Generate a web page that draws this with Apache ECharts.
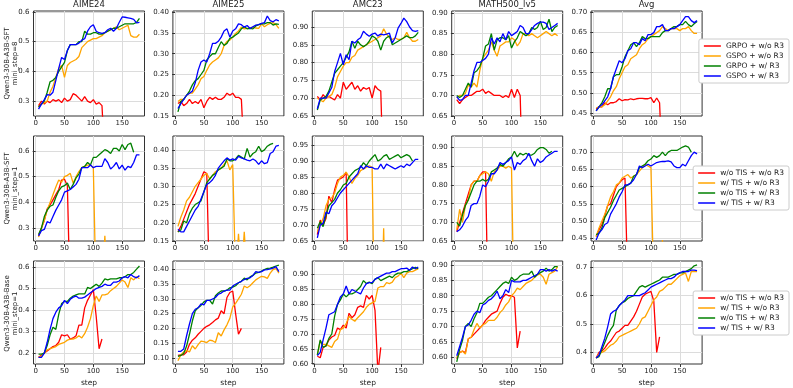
<!DOCTYPE html>
<html>
<head>
<meta charset="utf-8">
<script src="https://cdn.jsdelivr.net/npm/echarts@6.0.0/dist/echarts.min.js"></script>
<style>
  html, body { margin: 0; padding: 0; background: #fff; }
  #chart { width: 793px; height: 388px; }
</style>
</head>
<body>
<div id="chart"></div>
<script>
// x positions (training step) of every logged point
const steps = [5,10,15,20,25,30,35,40,45,50,55,60,65,70,75,80,85,90,95,100,
  105,110,115,120,125,130,135,140,145,150,155,160,165,170,175,180]

const benchmarks = ['AIME24', 'AIME25', 'AMC23', 'MATH500_lv5', 'Avg']
const rowLabels = ['Qwen3-30B-A3B-SFT\nmini_step=8', 'Qwen3-30B-A3B-SFT\nmini_step=1', 'Qwen3-30B-A3B-Base\nmini_step=1']
const legendRow1 = ['GRPO + w/o R3', 'GSPO + w/o R3', 'GRPO + w/ R3', 'GSPO + w/ R3']
const legendRow23 = ['w/o TIS + w/o R3', 'w/ TIS + w/o R3', 'w/o TIS + w/ R3', 'w/ TIS + w/ R3']
const xTicks = [0, 50, 100, 150]

// y tick labels and y limits, per row, per benchmark
const yTicks = [
  [['0.3','0.4','0.5','0.6'], ['0.15','0.20','0.25','0.30','0.35','0.40'], ['0.65','0.70','0.75','0.80','0.85','0.90'], ['0.65','0.70','0.75','0.80','0.85','0.90'], ['0.45','0.50','0.55','0.60','0.65','0.70']],
  [['0.3','0.4','0.5','0.6'], ['0.15','0.20','0.25','0.30','0.35','0.40'], ['0.65','0.70','0.75','0.80','0.85','0.90','0.95'], ['0.65','0.70','0.75','0.80','0.85','0.90'], ['0.45','0.50','0.55','0.60','0.65','0.70']],
  [['0.2','0.3','0.4','0.5','0.6'], ['0.10','0.15','0.20','0.25','0.30','0.35','0.40'], ['0.60','0.65','0.70','0.75','0.80','0.85','0.90'], ['0.60','0.65','0.70','0.75','0.80','0.85','0.90'], ['0.4','0.5','0.6','0.7']]
]
const yLimits = [
  [[0.25, 0.603], [0.15, 0.403], [0.65, 0.945], [0.65, 0.905], [0.442, 0.704]],
  [[0.25, 0.658], [0.15, 0.438], [0.65, 0.978], [0.65, 0.931], [0.442, 0.747]],
  [[0.149, 0.628], [0.079, 0.429], [0.599, 0.946], [0.578, 0.913], [0.359, 0.722]]
]

// row 1: Qwen3-30B-A3B-SFT, mini_step=8
const sft8Red = [
  [0.285,0.30,0.29,0.30,0.295,0.305,0.30,0.305,0.295,0.31,0.30,0.305,0.325,0.32,0.31,0.30,0.315,0.30,0.295,0.305,0.29,0.295,0.285,0.10],
  [0.18,0.185,0.175,0.18,0.19,0.18,0.185,0.18,0.19,0.17,0.185,0.195,0.19,0.195,0.19,0.19,0.195,0.205,0.20,0.205,0.195,0.195,0.19,0.05],
  [0.705,0.695,0.71,0.70,0.705,0.70,0.695,0.71,0.70,0.745,0.725,0.735,0.745,0.725,0.735,0.72,0.73,0.725,0.73,0.70,0.735,0.725,0.72,0.45],
  [0.69,0.68,0.69,0.695,0.70,0.70,0.705,0.71,0.71,0.715,0.705,0.71,0.705,0.70,0.70,0.70,0.695,0.70,0.695,0.715,0.695,0.715,0.70,0.45],
  [0.46,0.465,0.465,0.475,0.47,0.475,0.475,0.478,0.485,0.48,0.483,0.482,0.485,0.483,0.485,0.486,0.486,0.485,0.485,0.488,0.475,0.487,0.475,0.30]
]
const sft8Orange = [
  [0.28,0.29,0.295,0.30,0.33,0.35,0.38,0.41,0.42,0.38,0.42,0.43,0.435,0.44,0.45,0.48,0.49,0.50,0.505,0.51,0.51,0.515,0.52,0.53,0.535,0.54,0.545,0.55,0.54,0.545,0.55,0.555,0.52,0.515,0.515,0.525],
  [0.185,0.19,0.19,0.20,0.205,0.205,0.215,0.225,0.24,0.245,0.26,0.273,0.28,0.285,0.29,0.30,0.32,0.33,0.333,0.34,0.349,0.355,0.364,0.36,0.361,0.362,0.364,0.362,0.361,0.372,0.365,0.37,0.373,0.375,0.37,0.361],
  [0.70,0.695,0.69,0.70,0.705,0.71,0.73,0.76,0.775,0.79,0.80,0.80,0.815,0.82,0.835,0.84,0.845,0.85,0.855,0.86,0.865,0.87,0.875,0.895,0.88,0.87,0.865,0.87,0.865,0.865,0.87,0.885,0.87,0.86,0.86,0.865],
  [0.695,0.70,0.70,0.705,0.725,0.72,0.73,0.72,0.76,0.79,0.80,0.81,0.83,0.81,0.795,0.82,0.825,0.83,0.83,0.84,0.835,0.82,0.83,0.85,0.85,0.845,0.85,0.845,0.84,0.845,0.85,0.855,0.85,0.845,0.85,0.845],
  [0.462,0.465,0.465,0.47,0.48,0.49,0.505,0.515,0.535,0.55,0.565,0.57,0.585,0.59,0.595,0.61,0.62,0.625,0.635,0.64,0.645,0.65,0.655,0.665,0.66,0.655,0.66,0.66,0.66,0.655,0.66,0.66,0.665,0.655,0.648,0.648]
]
const sft8Green = [
  [0.28,0.29,0.30,0.33,0.365,0.37,0.38,0.40,0.415,0.43,0.47,0.49,0.49,0.49,0.50,0.50,0.535,0.525,0.525,0.53,0.53,0.525,0.525,0.53,0.535,0.54,0.545,0.545,0.55,0.555,0.56,0.56,0.56,0.56,0.565,0.578],
  [0.16,0.185,0.19,0.20,0.21,0.225,0.235,0.24,0.25,0.26,0.285,0.293,0.30,0.30,0.315,0.329,0.32,0.325,0.337,0.34,0.345,0.35,0.36,0.365,0.36,0.361,0.36,0.367,0.37,0.372,0.372,0.375,0.375,0.369,0.372,0.371],
  [0.667,0.695,0.70,0.705,0.72,0.745,0.77,0.78,0.79,0.80,0.815,0.83,0.86,0.84,0.86,0.85,0.845,0.85,0.86,0.875,0.87,0.86,0.835,0.86,0.87,0.875,0.85,0.855,0.86,0.865,0.87,0.875,0.87,0.87,0.875,0.885],
  [0.70,0.695,0.70,0.715,0.73,0.72,0.755,0.76,0.77,0.79,0.82,0.825,0.85,0.81,0.835,0.84,0.84,0.835,0.845,0.815,0.83,0.84,0.855,0.85,0.845,0.85,0.865,0.86,0.865,0.88,0.86,0.865,0.885,0.855,0.865,0.87],
  [0.455,0.465,0.475,0.49,0.51,0.51,0.54,0.545,0.545,0.565,0.59,0.605,0.62,0.625,0.615,0.625,0.64,0.635,0.635,0.64,0.64,0.64,0.64,0.65,0.655,0.655,0.66,0.665,0.665,0.67,0.67,0.678,0.67,0.665,0.672,0.678]
]
const sft8Blue = [
  [0.273,0.29,0.305,0.322,0.32,0.33,0.37,0.41,0.447,0.44,0.47,0.49,0.49,0.49,0.495,0.505,0.51,0.535,0.55,0.557,0.535,0.53,0.528,0.53,0.54,0.545,0.535,0.545,0.565,0.583,0.582,0.58,0.578,0.575,0.563,0.565],
  [0.168,0.18,0.19,0.20,0.205,0.21,0.23,0.26,0.28,0.285,0.28,0.30,0.325,0.325,0.33,0.34,0.355,0.36,0.34,0.355,0.36,0.372,0.37,0.364,0.368,0.361,0.365,0.369,0.37,0.373,0.375,0.391,0.38,0.377,0.382,0.379],
  [0.67,0.70,0.70,0.70,0.715,0.73,0.775,0.80,0.826,0.794,0.822,0.808,0.86,0.855,0.864,0.87,0.888,0.88,0.874,0.88,0.883,0.875,0.88,0.878,0.88,0.883,0.855,0.87,0.897,0.91,0.925,0.915,0.90,0.89,0.888,0.89],
  [0.697,0.688,0.69,0.70,0.70,0.73,0.76,0.78,0.78,0.785,0.79,0.80,0.84,0.825,0.84,0.83,0.85,0.835,0.855,0.845,0.85,0.855,0.87,0.865,0.85,0.85,0.86,0.87,0.875,0.878,0.878,0.875,0.86,0.865,0.87,0.875],
  [0.455,0.465,0.47,0.48,0.49,0.51,0.54,0.56,0.58,0.575,0.585,0.605,0.61,0.625,0.625,0.62,0.635,0.63,0.645,0.645,0.65,0.665,0.665,0.67,0.655,0.655,0.66,0.66,0.665,0.67,0.68,0.69,0.69,0.68,0.675,0.68]
]

// row 2: Qwen3-30B-A3B-SFT, mini_step=1
const sft1Red = [
  [0.27,0.30,0.33,0.375,0.39,0.41,0.43,0.45,0.487,0.49,0.465,0.0],
  [0.175,0.19,0.21,0.23,0.25,0.265,0.28,0.30,0.32,0.34,0.335,0.0],
  [0.67,0.715,0.70,0.72,0.79,0.77,0.81,0.84,0.845,0.85,0.865,0.3],
  [0.675,0.70,0.725,0.75,0.775,0.80,0.81,0.81,0.825,0.835,0.835,0.4],
  [0.455,0.475,0.49,0.515,0.545,0.55,0.575,0.60,0.61,0.62,0.625,0.3]
]
const sft1Orange = [
  [0.265,0.30,0.33,0.37,0.40,0.43,0.46,0.487,0.478,0.50,0.505,0.513,0.475,0.50,0.52,0.535,0.54,0.545,0.545,0.535,0.02,0.05,0.08,0.27,0.05],
  [0.19,0.215,0.235,0.26,0.27,0.285,0.30,0.31,0.32,0.33,0.335,0.32,0.33,0.34,0.345,0.35,0.36,0.37,0.345,0.36,0.05,0.17,0.05,0.175,0.05],
  [0.68,0.70,0.72,0.76,0.78,0.785,0.80,0.83,0.85,0.855,0.865,0.85,0.83,0.845,0.855,0.87,0.875,0.88,0.885,0.88,0.3,0.3,0.3,0.69,0.3],
  [0.68,0.735,0.70,0.745,0.76,0.80,0.81,0.81,0.825,0.83,0.835,0.83,0.81,0.835,0.84,0.85,0.85,0.845,0.85,0.845,0.4,0.4,0.4,0.4,0.4],
  [0.455,0.48,0.50,0.52,0.545,0.57,0.585,0.605,0.61,0.625,0.63,0.635,0.625,0.63,0.635,0.645,0.655,0.665,0.66,0.655,0.3,0.3,0.3,0.445,0.3]
]
const sft1Green = [
  [0.275,0.30,0.345,0.37,0.385,0.39,0.42,0.445,0.46,0.465,0.475,0.45,0.47,0.495,0.51,0.535,0.54,0.555,0.545,0.575,0.575,0.585,0.595,0.605,0.60,0.59,0.61,0.61,0.60,0.625,0.605,0.625,0.63,0.595],
  [0.175,0.18,0.205,0.20,0.225,0.24,0.25,0.255,0.26,0.285,0.31,0.32,0.33,0.335,0.345,0.35,0.355,0.375,0.37,0.37,0.375,0.385,0.38,0.375,0.404,0.38,0.39,0.395,0.41,0.395,0.40,0.41,0.415,0.418],
  [0.69,0.71,0.695,0.73,0.76,0.77,0.78,0.80,0.81,0.825,0.83,0.85,0.86,0.87,0.875,0.88,0.895,0.885,0.90,0.91,0.92,0.90,0.905,0.915,0.92,0.905,0.91,0.915,0.92,0.91,0.915,0.92,0.915,0.90],
  [0.70,0.69,0.72,0.745,0.76,0.78,0.80,0.81,0.81,0.815,0.81,0.815,0.835,0.84,0.845,0.855,0.85,0.86,0.87,0.875,0.89,0.875,0.885,0.88,0.885,0.88,0.88,0.885,0.895,0.90,0.90,0.895,0.885,0.89],
  [0.46,0.465,0.48,0.51,0.525,0.54,0.56,0.575,0.59,0.595,0.60,0.605,0.61,0.63,0.635,0.655,0.66,0.665,0.675,0.68,0.69,0.685,0.69,0.70,0.69,0.70,0.705,0.705,0.705,0.71,0.715,0.718,0.715,0.70]
]
const sft1Blue = [
  [0.27,0.29,0.295,0.325,0.32,0.345,0.37,0.39,0.41,0.44,0.445,0.45,0.46,0.47,0.49,0.535,0.535,0.535,0.545,0.535,0.54,0.54,0.54,0.57,0.555,0.53,0.54,0.555,0.53,0.545,0.525,0.54,0.535,0.555,0.585,0.585],
  [0.182,0.175,0.175,0.19,0.205,0.22,0.235,0.245,0.265,0.285,0.305,0.31,0.318,0.33,0.35,0.36,0.37,0.378,0.372,0.375,0.372,0.382,0.378,0.375,0.372,0.37,0.375,0.37,0.36,0.37,0.362,0.365,0.39,0.395,0.41,0.412],
  [0.66,0.70,0.705,0.74,0.735,0.76,0.77,0.785,0.80,0.81,0.82,0.83,0.84,0.85,0.86,0.885,0.875,0.885,0.88,0.88,0.875,0.875,0.89,0.875,0.89,0.885,0.88,0.875,0.88,0.885,0.88,0.89,0.885,0.895,0.905,0.905],
  [0.675,0.68,0.69,0.705,0.715,0.745,0.75,0.75,0.77,0.80,0.795,0.81,0.83,0.83,0.84,0.86,0.855,0.86,0.865,0.875,0.84,0.86,0.855,0.865,0.87,0.885,0.865,0.85,0.87,0.86,0.865,0.875,0.88,0.885,0.89,0.89],
  [0.445,0.465,0.475,0.49,0.495,0.52,0.535,0.55,0.57,0.585,0.605,0.605,0.61,0.62,0.635,0.66,0.655,0.66,0.665,0.66,0.665,0.67,0.672,0.673,0.673,0.675,0.672,0.66,0.655,0.655,0.665,0.66,0.675,0.69,0.70,0.695]
]

// row 3: Qwen3-30B-A3B-Base, mini_step=1
const base1Red = [
  [0.18,0.19,0.20,0.21,0.22,0.23,0.235,0.25,0.285,0.28,0.285,0.265,0.27,0.28,0.33,0.33,0.41,0.445,0.47,0.495,0.37,0.22,0.265],
  [0.108,0.11,0.11,0.12,0.146,0.16,0.168,0.18,0.19,0.20,0.207,0.212,0.22,0.229,0.235,0.26,0.25,0.305,0.322,0.327,0.25,0.18,0.20],
  [0.625,0.62,0.655,0.66,0.68,0.69,0.695,0.72,0.715,0.73,0.72,0.77,0.755,0.765,0.79,0.795,0.79,0.83,0.818,0.83,0.78,0.57,0.655],
  [0.595,0.615,0.62,0.615,0.66,0.665,0.675,0.685,0.695,0.705,0.72,0.73,0.74,0.745,0.75,0.775,0.795,0.805,0.80,0.80,0.795,0.63,0.685],
  [0.38,0.40,0.405,0.415,0.43,0.44,0.455,0.47,0.475,0.485,0.495,0.495,0.51,0.525,0.545,0.57,0.595,0.605,0.61,0.615,0.58,0.40,0.455]
]
const base1Orange = [
  [0.18,0.185,0.20,0.215,0.22,0.225,0.23,0.24,0.245,0.25,0.26,0.265,0.265,0.27,0.28,0.27,0.29,0.32,0.36,0.42,0.465,0.44,0.47,0.47,0.475,0.49,0.50,0.51,0.525,0.54,0.53,0.505,0.55,0.54,0.555,0.545],
  [0.09,0.11,0.12,0.125,0.12,0.141,0.13,0.145,0.157,0.155,0.152,0.16,0.158,0.152,0.185,0.174,0.195,0.212,0.234,0.273,0.285,0.30,0.316,0.344,0.338,0.345,0.355,0.365,0.371,0.377,0.375,0.37,0.388,0.40,0.404,0.388],
  [0.63,0.677,0.665,0.665,0.66,0.655,0.675,0.683,0.715,0.72,0.735,0.76,0.75,0.743,0.755,0.765,0.775,0.79,0.80,0.805,0.81,0.855,0.86,0.86,0.873,0.87,0.875,0.89,0.895,0.905,0.89,0.905,0.91,0.91,0.915,0.92],
  [0.60,0.615,0.62,0.61,0.66,0.665,0.69,0.71,0.695,0.705,0.71,0.72,0.72,0.72,0.73,0.745,0.755,0.77,0.78,0.80,0.81,0.825,0.82,0.83,0.84,0.845,0.85,0.86,0.868,0.87,0.86,0.837,0.87,0.875,0.88,0.895],
  [0.38,0.395,0.40,0.405,0.415,0.425,0.43,0.44,0.455,0.46,0.465,0.47,0.475,0.48,0.485,0.50,0.52,0.525,0.545,0.565,0.585,0.595,0.615,0.62,0.63,0.64,0.64,0.65,0.66,0.67,0.675,0.68,0.65,0.685,0.685,0.685]
]
const base1Green = [
  [0.195,0.195,0.20,0.235,0.285,0.32,0.31,0.38,0.43,0.44,0.44,0.455,0.465,0.47,0.475,0.475,0.475,0.505,0.50,0.51,0.52,0.51,0.525,0.545,0.54,0.545,0.545,0.545,0.55,0.55,0.555,0.565,0.565,0.575,0.59,0.605],
  [0.105,0.108,0.115,0.14,0.18,0.225,0.26,0.27,0.278,0.29,0.295,0.295,0.283,0.311,0.32,0.327,0.327,0.33,0.338,0.34,0.345,0.355,0.36,0.371,0.365,0.375,0.38,0.388,0.39,0.395,0.40,0.404,0.405,0.408,0.412,0.415],
  [0.63,0.68,0.655,0.66,0.685,0.70,0.76,0.80,0.815,0.835,0.825,0.835,0.835,0.84,0.85,0.86,0.88,0.87,0.875,0.87,0.885,0.89,0.88,0.885,0.89,0.895,0.89,0.90,0.905,0.905,0.91,0.91,0.915,0.92,0.925,0.92],
  [0.585,0.625,0.655,0.70,0.71,0.70,0.725,0.745,0.775,0.775,0.785,0.795,0.80,0.81,0.82,0.83,0.84,0.845,0.84,0.86,0.85,0.855,0.865,0.87,0.87,0.87,0.88,0.86,0.87,0.875,0.88,0.89,0.88,0.885,0.895,0.895],
  [0.38,0.385,0.41,0.435,0.46,0.48,0.495,0.55,0.565,0.575,0.58,0.59,0.595,0.60,0.615,0.63,0.635,0.63,0.635,0.64,0.645,0.65,0.655,0.665,0.665,0.665,0.67,0.675,0.675,0.68,0.68,0.685,0.69,0.695,0.705,0.708]
]
const base1Blue = [
  [0.18,0.18,0.20,0.25,0.31,0.36,0.39,0.41,0.42,0.445,0.43,0.45,0.46,0.465,0.455,0.455,0.46,0.47,0.48,0.49,0.50,0.505,0.51,0.52,0.515,0.515,0.53,0.53,0.535,0.55,0.555,0.55,0.565,0.555,0.55,0.56],
  [0.122,0.122,0.13,0.175,0.215,0.25,0.265,0.27,0.283,0.28,0.295,0.295,0.30,0.305,0.316,0.32,0.327,0.33,0.33,0.344,0.35,0.355,0.36,0.366,0.37,0.372,0.38,0.393,0.39,0.393,0.399,0.40,0.402,0.405,0.41,0.393],
  [0.627,0.638,0.68,0.72,0.765,0.77,0.775,0.80,0.825,0.835,0.862,0.835,0.85,0.845,0.84,0.835,0.855,0.87,0.873,0.873,0.884,0.89,0.895,0.90,0.905,0.905,0.91,0.91,0.915,0.92,0.92,0.922,0.915,0.926,0.92,0.926],
  [0.605,0.635,0.665,0.70,0.705,0.72,0.74,0.75,0.745,0.77,0.775,0.785,0.79,0.80,0.815,0.79,0.80,0.82,0.81,0.85,0.845,0.845,0.845,0.85,0.85,0.855,0.86,0.865,0.87,0.885,0.885,0.88,0.885,0.88,0.885,0.88],
  [0.38,0.39,0.42,0.45,0.49,0.535,0.545,0.55,0.565,0.575,0.585,0.60,0.60,0.60,0.60,0.60,0.605,0.61,0.62,0.63,0.635,0.64,0.645,0.65,0.655,0.66,0.66,0.665,0.675,0.68,0.685,0.685,0.685,0.69,0.69,0.688]
]

const rows = [
  { names: legendRow1, lines: [sft8Red, sft8Orange, sft8Green, sft8Blue] },
  { names: legendRow23, lines: [sft1Red, sft1Orange, sft1Green, sft1Blue] },
  { names: legendRow23, lines: [base1Red, base1Orange, base1Green, base1Blue] }
]
const colors = ['#ff0000', '#ffa500', '#008000', '#0000ff']

const font = 'DejaVu Sans'
const gridTop = [11, 136, 261]
const gridLeft = c => 33.5 + 139.4 * c
const gridW = 111, gridH = 105

let grids = [], xAxes = [], yAxes = [], series = [], graphics = []

rows.forEach((row, r) => {
  benchmarks.forEach((b, c) => {
    const g = r * 5 + c
    const labels = yTicks[r][c]
    grids.push({
      left: gridLeft(c), top: gridTop[r], width: gridW, height: gridH,
      show: true, borderColor: '#333', borderWidth: 1, containLabel: false
    })
    xAxes.push({
      gridIndex: g, type: 'value', min: -3.75, max: 188.75,
      axisLine: { show: false },
      axisTick: { customValues: xTicks, length: 3, lineStyle: { color: '#333' } },
      axisLabel: { customValues: xTicks, fontSize: 7, fontFamily: font, color: '#222', margin: 3.5 },
      splitLine: { show: true, lineStyle: { color: '#dcdcdc', width: 1 } },
      name: r === 2 ? 'step' : '', nameLocation: 'middle', nameGap: 15,
      nameTextStyle: { fontSize: 7.5, fontFamily: font, color: '#222' }
    })
    yAxes.push({
      gridIndex: g, type: 'value', min: yLimits[r][c][0], max: yLimits[r][c][1],
      axisLine: { show: false },
      axisTick: { customValues: labels.map(Number), length: 3, lineStyle: { color: '#333' } },
      axisLabel: {
        customValues: labels.map(Number), fontSize: 7, fontFamily: font, color: '#222', margin: 4,
        formatter: v => labels.find(s => Math.abs(Number(s) - v) < 1e-9) || ''
      },
      splitLine: { show: true, lineStyle: { color: '#dcdcdc', width: 1 } }
    })
    row.lines.forEach((arr, k) => {
      series.push({
        type: 'line', name: row.names[k], xAxisIndex: g, yAxisIndex: g,
        data: arr[c].map((v, i) => [steps[i], v]),
        symbol: 'none', clip: true, z: 2 + k,
        lineStyle: { color: colors[k], width: 1.3 },
        itemStyle: { color: colors[k] }
      })
    })
    if (r === 0) {
      graphics.push({
        type: 'text', x: gridLeft(c) + gridW / 2, y: 5,
        style: { text: b, font: `8.5px "${font}"`, fill: '#222', textAlign: 'center', textVerticalAlign: 'middle' }
      })
    }
  })
  graphics.push({
    type: 'text', x: 11, y: gridTop[r] + gridH / 2, rotation: Math.PI / 2,
    style: { text: rowLabels[r], font: `7px "${font}"`, fill: '#222', textAlign: 'center', textVerticalAlign: 'middle', lineHeight: 8.5 }
  })
})

const legendTop = [39, 166, 291]
const legends = rows.map((row, r) => ({
  data: row.names, orient: 'vertical', right: 4, top: legendTop[r],
  icon: 'rect', itemWidth: 17, itemHeight: 1.5, itemGap: 2,
  padding: [3, 5, 3, 5],
  borderColor: '#cccccc', borderWidth: 1, borderRadius: 2, backgroundColor: '#fff',
  selectedMode: false,
  textStyle: { fontSize: 7.5, lineHeight: 8, fontFamily: font, color: '#222' }
}))

const chart = echarts.init(document.getElementById('chart'), null, { renderer: 'canvas' })
chart.setOption({
  animation: false,
  backgroundColor: '#fff',
  grid: grids, xAxis: xAxes, yAxis: yAxes,
  legend: legends,
  series: series,
  graphic: graphics
})
window.addEventListener('resize', () => chart.resize())
</script>
</body>
</html>
